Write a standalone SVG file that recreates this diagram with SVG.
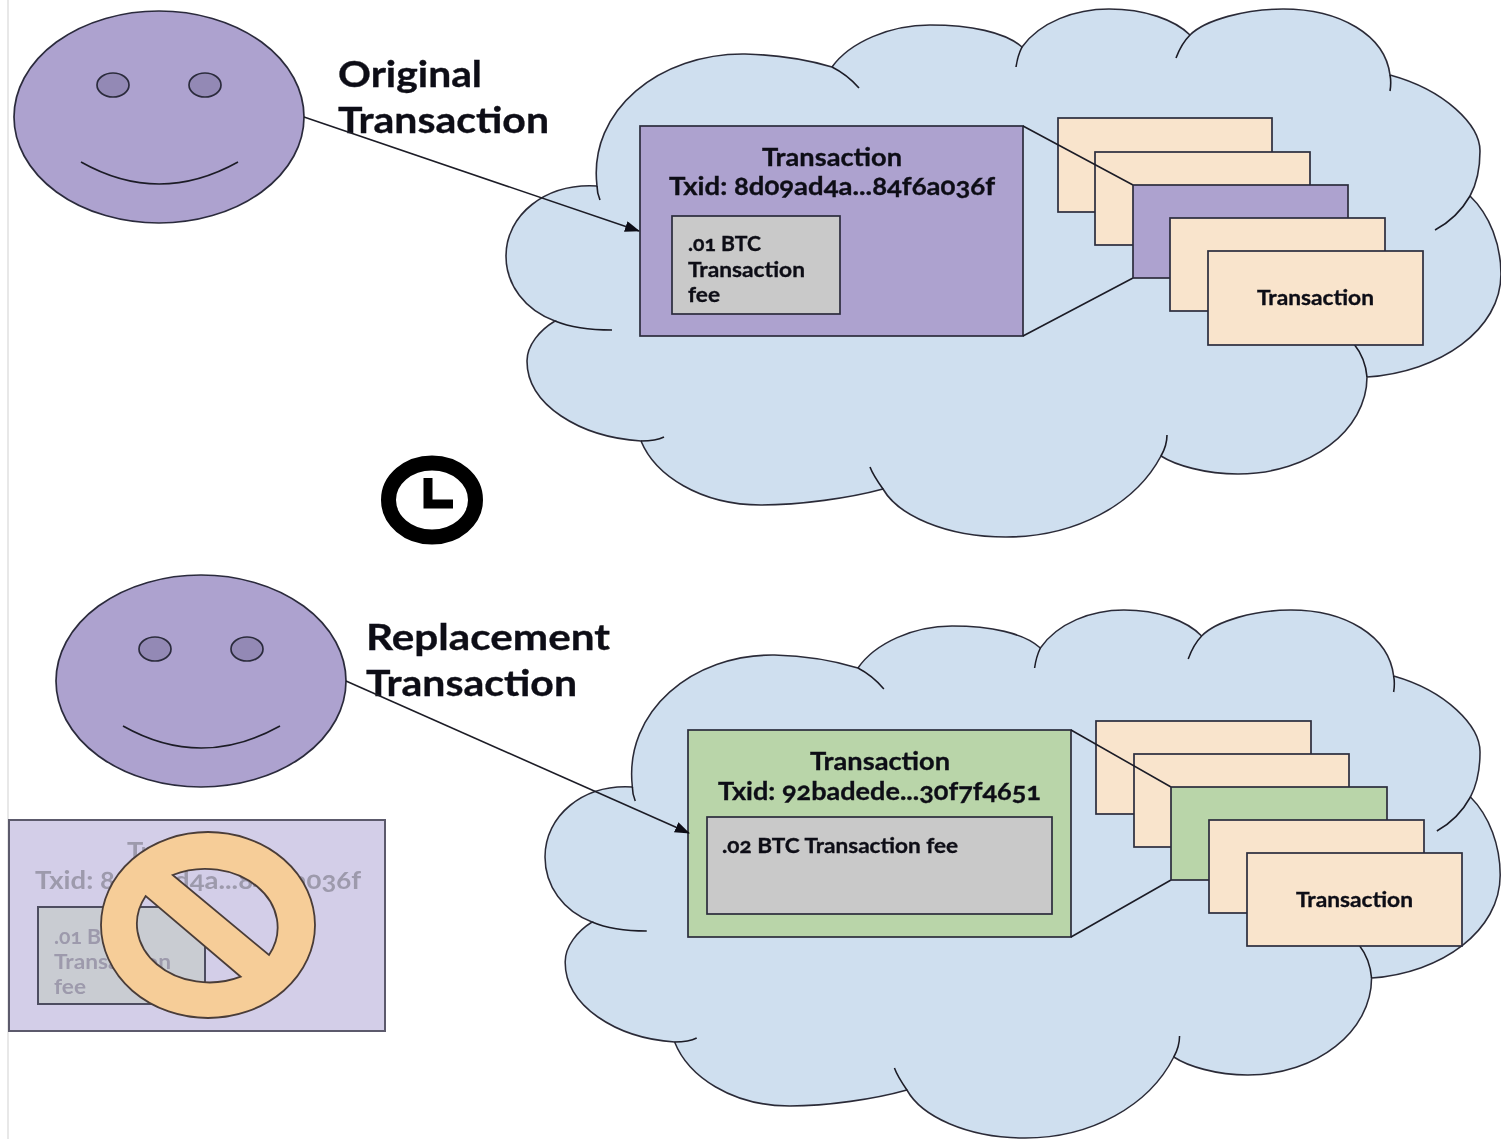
<svg xmlns="http://www.w3.org/2000/svg" xmlns:xlink="http://www.w3.org/1999/xlink" width="1501" height="1139" viewBox="0 0 1501 1139">
<style>
text{font-family:"Lato","Open Sans","Liberation Sans",sans-serif;font-weight:700;fill:#101018;stroke:#101018;stroke-width:.35;font-variant-numeric:oldstyle-nums}
.t{font-size:37px}.m{font-size:25px}.s{font-size:21px}
.o{stroke:#2c2c3c;stroke-width:1.7}
.cr{fill:#f9e4cc}.pu{fill:#ada2cf}.gn{fill:#b9d5a9}.gy{fill:#c9c9c9}
.line{fill:none;stroke:#1c1c26;stroke-width:1.6}
.fade text{fill:#9d9aac;stroke:none}
</style>
<defs>
<filter id="soft" x="0" y="0" width="100%" height="100%"><feGaussianBlur stdDeviation="0.5"/></filter>
<marker id="ah" markerWidth="15" markerHeight="13" refX="14" refY="5.500" orient="auto" markerUnits="userSpaceOnUse"><path d="M0,0L15,5.500L0,11Z" fill="#101018"/></marker>
<g id="cloud">
<path fill="#cfdfef" stroke="#2c2c38" stroke-width="1.6" d="M597,186C588,110 660,53 745,54C785,55 815,62 832,67C850,42 890,25 930,25C970,25 1005,32 1022,47C1040,22 1075,9 1109,9C1145,9 1175,20 1190,35C1205,20 1245,9 1283,9C1340,9 1385,35 1390,75C1445,90 1480,125 1480,151C1480,170 1476,185 1470,196C1490,215 1501,245 1501,274C1501,330 1440,372 1367,377C1367,430 1310,474 1238,474C1205,474 1175,465 1161,456C1135,505 1075,537 1006,537C945,537 898,515 883,489C850,498 800,505 761,505C700,505 655,475 641,441C580,437 527,405 527,361C527,345 540,330 555,321C525,310 506,285 506,256C506,215 545,183 597,186Z"/>
<path class="line" d="M597,186C597,190 598,195 600,200M832,67C842,72 852,80 859,88M1016,67C1017,60 1019,53 1022,47M1190,35C1184,41 1179,50 1176,58M1390,75C1391,80 1391,85 1390,91M1470,196C1462,210 1450,222 1435,230M1367,377C1366,365 1362,354 1354,344M1167,435C1167,442 1165,449 1161,456M883,489C878,482 873,475 870,467M641,441C650,441 658,440 664,437M555,321C572,328 590,330 612,330"/>
</g>
<g id="face">
<ellipse cx="159" cy="117" rx="145" ry="106" class="pu o"/>
<ellipse cx="113" cy="85" rx="16" ry="12" fill="#9389b5" class="o"/>
<ellipse cx="205" cy="85" rx="16" ry="12" fill="#9389b5" class="o"/>
<path class="line" d="M81,162Q159,206 238,162"/>
</g>
</defs>
<rect width="1501" height="1139" fill="#fff"/>
<g filter="url(#soft)">
<rect x="7" y="0" width="2" height="1139" fill="#e8e8e8"/>
<g id="cloud-top"><use href="#cloud"/></g>
<g id="cloud-bottom"><use href="#cloud" transform="translate(545,601) scale(.96,1) translate(-506,0)"/></g>
<g id="face-top"><use href="#face"/></g>
<g id="face-bottom"><use href="#face" transform="translate(42,564)"/></g>
<g id="label-original"><text class="t" x="338" y="87" textLength="144" lengthAdjust="spacingAndGlyphs">Original</text><text class="t" x="338" y="133" textLength="211" lengthAdjust="spacingAndGlyphs">Transaction</text></g>
<g id="label-replacement"><text class="t" x="366" y="650" textLength="244" lengthAdjust="spacingAndGlyphs">Replacement</text><text class="t" x="366" y="696" textLength="211" lengthAdjust="spacingAndGlyphs">Transaction</text></g>
<g id="tx-original">
<rect x="640" y="126" width="383" height="210" class="pu o"/>
<text class="m" x="762" y="166" textLength="140" lengthAdjust="spacingAndGlyphs">Transaction</text>
<text class="m" x="669" y="195" textLength="326" lengthAdjust="spacingAndGlyphs">Txid: 8d09ad4a...84f6a036f</text>
<rect x="672" y="216" width="168" height="98" class="gy o"/>
<text class="s" x="688" y="251" textLength="73" lengthAdjust="spacingAndGlyphs">.01 BTC</text>
<text class="s" x="688" y="277" textLength="117" lengthAdjust="spacingAndGlyphs">Transaction</text>
<text class="s" x="688" y="302" textLength="32" lengthAdjust="spacingAndGlyphs">fee</text>
</g>
<g id="stack-original">
<rect x="1058" y="118" width="214" height="94" class="cr o"/>
<rect x="1095" y="152" width="215" height="93" class="cr o"/>
</g>
<g id="tx-replacement">
<rect x="688" y="730" width="383" height="207" class="gn o"/>
<text class="m" x="810" y="770" textLength="140" lengthAdjust="spacingAndGlyphs">Transaction</text>
<text class="m" x="718" y="800" textLength="323" lengthAdjust="spacingAndGlyphs">Txid: 92badede...30f7f4651</text>
<rect x="707" y="817" width="345" height="97" class="gy o"/>
<text class="s" x="722" y="853" textLength="236" lengthAdjust="spacingAndGlyphs">.02 BTC Transaction fee</text>
</g>
<g id="stack-replacement">
<rect x="1096" y="721" width="215" height="93" class="cr o"/>
<rect x="1134" y="754" width="215" height="93" class="cr o"/>
</g>
<g id="connectors">
<path class="line" marker-end="url(#ah)" d="M304,117L639,231"/>
<path class="line" marker-end="url(#ah)" d="M346,681L689,833"/>
<path class="line" d="M1023,126L1133,185M1023,336L1133,278M1071,730L1171,787M1071,937L1171,880"/>
</g>
<g id="stack-original-front">
<rect x="1133" y="185" width="215" height="93" class="pu o"/>
<rect x="1170" y="218" width="215" height="93" class="cr o"/>
<rect x="1208" y="251" width="215" height="94" class="cr o"/>
<text class="s" x="1257" y="305" textLength="117" lengthAdjust="spacingAndGlyphs">Transaction</text>
</g>
<g id="stack-replacement-front">
<rect x="1171" y="787" width="216" height="93" class="gn o"/>
<rect x="1209" y="820" width="215" height="93" class="cr o"/>
<rect x="1247" y="853" width="215" height="93" class="cr o"/>
<text class="s" x="1296" y="907" textLength="117" lengthAdjust="spacingAndGlyphs">Transaction</text>
</g>
<g id="clock">
<ellipse cx="432" cy="500" rx="43.500" ry="37" fill="none" stroke="#000" stroke-width="15"/>
<path d="M428,478V504H453" fill="none" stroke="#000" stroke-width="9"/>
</g>
<g id="cancelled-tx" class="fade">
<rect x="9" y="820" width="376" height="211" fill="#d3cee8" stroke="#5c5a6c" stroke-width="2"/>
<text class="m" x="127" y="860" textLength="140" lengthAdjust="spacingAndGlyphs">Transaction</text>
<text class="m" x="35" y="889" textLength="326" lengthAdjust="spacingAndGlyphs">Txid: 8d09ad4a...84f6a036f</text>
<rect x="38" y="907" width="167" height="97" fill="#c9ccd2" stroke="#4e4e60" stroke-width="2"/>
<text class="s" x="54" y="944" textLength="73" lengthAdjust="spacingAndGlyphs">.01 BTC</text>
<text class="s" x="54" y="969" textLength="117" lengthAdjust="spacingAndGlyphs">Transaction</text>
<text class="s" x="54" y="994" textLength="32" lengthAdjust="spacingAndGlyphs">fee</text>
</g>
<g id="no-sign">
<path fill="#f6cd98" fill-rule="evenodd" stroke="#4a3c38" stroke-width="1.8" d="M101,925A107,93 0 1 1 315,925A107,93 0 1 1 101,925ZM172.700,875A72.500,58.500 0 0 1 269,955ZM240.700,976.700A72.500,58.500 0 0 1 145.700,896Z"/>
</g>
</g>
</svg>
